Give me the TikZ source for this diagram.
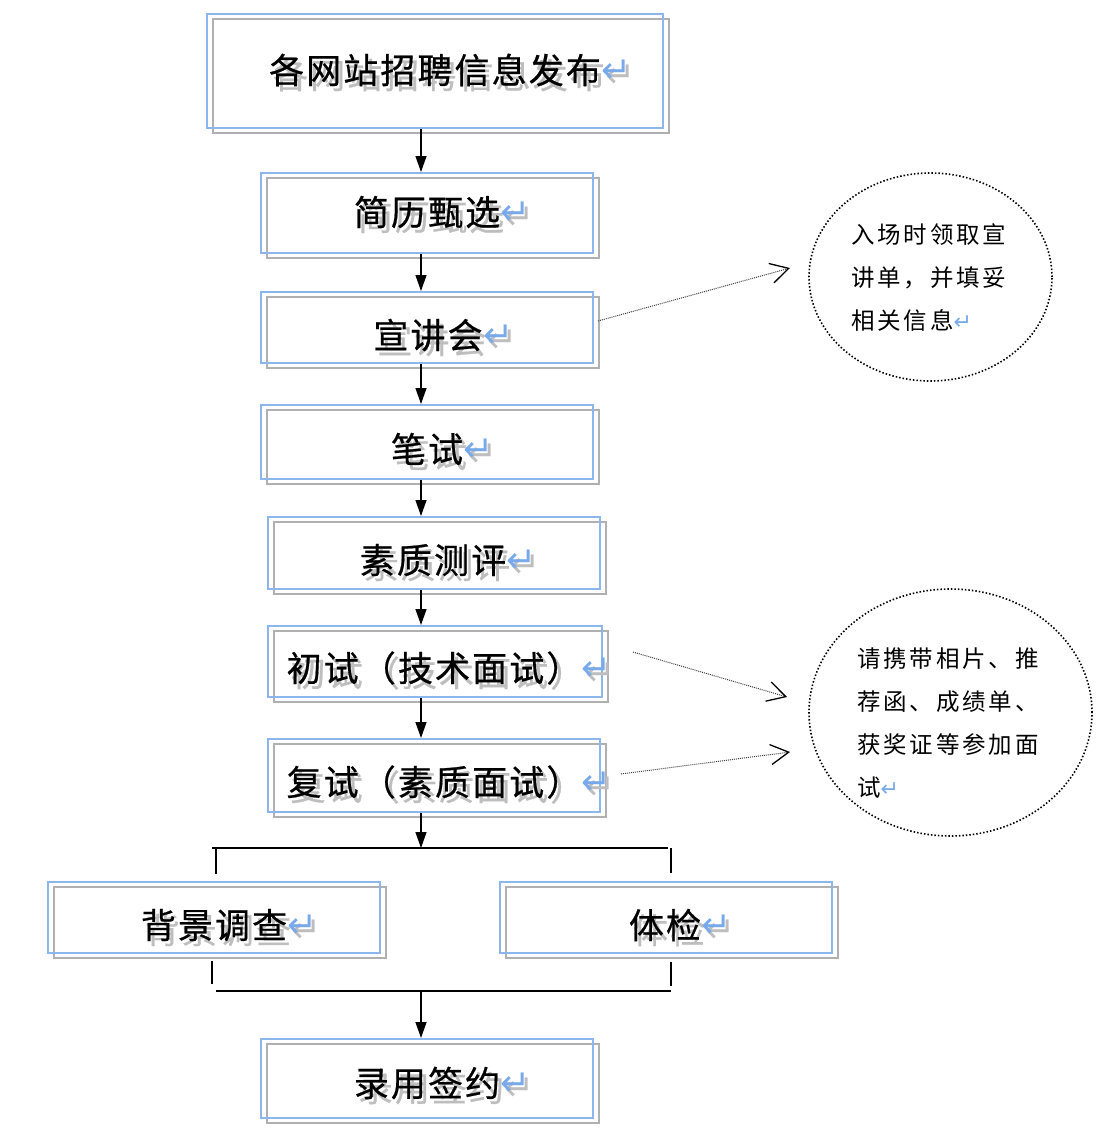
\documentclass[tikz,border=0pt]{standalone}
\usepackage{fontspec}
\setmainfont{Noto Sans CJK SC}
\newfontfamily\boxfont[LetterSpace=6,FakeBold=0.6]{Noto Sans CJK SC}
\newfontfamily\ellfont[LetterSpace=12]{Noto Sans CJK SC}
\newfontfamily\retfont{DejaVu Sans}
\usetikzlibrary{arrows.meta,shapes.geometric}
\definecolor{frameblue}{RGB}{141,182,236}
\definecolor{framegray}{RGB}{176,176,176}
\definecolor{shadowgray}{RGB}{190,190,190}
\definecolor{retblue}{RGB}{120,170,235}
\newcommand\flowbox[5]{%
  \node[graybox, minimum width=#4pt, minimum height=#5pt] (#1g) at (#2+6,#3+5) {};
  \node[bluebox, minimum width=#4pt, minimum height=#5pt] (#1) at (#2,#3) {};
}
\newcommand\flowlabel[4]{%
  \node[btext, text=shadowgray] (#1s) at (#2+4,#3+5) {#4};
  \node[ret, text=shadowgray, anchor=base west] (#1rs) at (#1s.base east) {↵};
  \node[btext] (#1) at (#2,#3) {#4};
  \node[ret, anchor=base west] (#1r) at (#1.base east) {↵};
}
\begin{document}
\begin{tikzpicture}[x=1pt,y=-1pt,
  bluebox/.style={draw=frameblue, line width=2pt, inner sep=0pt, rectangle},
  graybox/.style={draw=framegray, line width=2pt, inner sep=0pt, rectangle},
  btext/.style={inner sep=0pt, font=\boxfont\fontsize{35}{42}\selectfont},
  ret/.style={inner sep=0pt, font=\retfont\fontsize{36}{36}\selectfont, text=retblue, yshift=1pt},
  flow/.style={line width=1.3pt, -{Triangle[length=16pt,width=11pt]}},
  bar/.style={line width=2pt},
  note/.style={draw=black, ellipse, line width=1.6pt, dash pattern=on 1.5pt off 2pt, inner sep=0pt},
  etext/.style={inner sep=0pt, align=left, font=\ellfont\fontsize{23.5}{43}\selectfont},
  hint/.style={line width=1pt, dash pattern=on 1pt off 1pt, draw=black!75, -{Straight Barb[length=18pt,width=20pt,line width=1.3pt,color=black]}},
]
\fill[white] (0,0) rectangle (1108,1146);
\useasboundingbox (0,0) rectangle (1108,1146);

% boxes
\flowbox{b1}{435}{71}{456}{114}
\flowbox{b2}{427}{213}{332}{80}
\flowbox{b3}{427}{327.5}{332}{71}
\flowbox{b4}{427}{442}{332}{74}
\flowbox{b5}{434}{553}{332}{72}
\flowbox{b6}{435}{661.5}{334}{71}
\flowbox{b7}{434}{775.5}{332}{73}
\flowbox{b8}{214}{917.5}{332}{71}
\flowbox{b9}{666}{917.5}{332}{71}
\flowbox{b10}{427}{1078.5}{332}{79}

% labels
\flowlabel{l1}{435}{70}{各网站招聘信息发布}
\flowlabel{l2}{427}{212}{简历甄选}
\flowlabel{l3}{428}{335}{宣讲会}
\flowlabel{l4}{427}{449}{笔试}
\flowlabel{l5}{433}{560}{素质测评}
\flowlabel{l6}{434}{668}{初试（技术面试）}
\flowlabel{l7}{434}{782}{复试（素质面试）}
\flowlabel{l8}{214}{925}{背景调查}
\flowlabel{l9}{665}{925}{体检}
\flowlabel{l10}{427}{1083}{录用签约}

% main flow
\coordinate (ax) at (421,0);
\draw[flow] (b1.south -| ax) -- (b2.north -| ax);
\draw[flow] (b2.south -| ax) -- (b3.north -| ax);
\draw[flow] (b3.south -| ax) -- (b4.north -| ax);
\draw[flow] (b4.south -| ax) -- (b5.north -| ax);
\draw[flow] (b5.south -| ax) -- (b6.north -| ax);
\draw[flow] (b6.south -| ax) -- (b7.north -| ax);

% split
\coordinate (j1l) at (212,848);
\coordinate (j1r) at (668,848);
\draw[bar] (j1l) -- (j1r);
\draw[flow] (b7.south -| ax) -- (j1l -| ax);
\coordinate (k1a) at (216,848);
\coordinate (k1b) at (216,874);
\coordinate (k2a) at (671,848);
\coordinate (k2b) at (671,873);
\draw[bar] (k1a) -- (k1b);
\draw[bar] (k2a) -- (k2b);

% join
\coordinate (k3a) at (212,961);
\coordinate (k3b) at (212,984);
\coordinate (k4a) at (671,962);
\coordinate (k4b) at (671,986);
\draw[bar] (k3a) -- (k3b);
\draw[bar] (k4a) -- (k4b);
\coordinate (j2l) at (216,991);
\coordinate (j2r) at (671,991);
\draw[bar] (j2l) -- (j2r);
\draw[flow] (j2l -| ax) -- (b10.north -| ax);

% notes
\node[note, minimum width=243pt, minimum height=208pt] (e1) at (930.5,277) {};
\node[note, minimum width=283pt, minimum height=247pt] (e2) at (950.5,712.5) {};
\node[etext, anchor=west] (n1) at (851,278) {入场时领取宣\\讲单，并填妥\\相关信息{\retfont\fontsize{22}{22}\selectfont\color{retblue}↵}};
\node[etext, anchor=west] (n2) at (857,723) {请携带相片、推\\荐函、成绩单、\\获奖证等参加面\\试{\retfont\fontsize{22}{22}\selectfont\color{retblue}↵}};

% hints
\coordinate (h1e) at (790,268);
\coordinate (h2e) at (787,697);
\coordinate (h3e) at (790,752);
\draw[hint] ([shift={(4,-6.5)}]b3.east) -- (h1e);
\draw[hint] ([shift={(30,-9.5)}]b6.east) -- (h2e);
\draw[hint] ([shift={(20,-1.5)}]b7.east) -- (h3e);
\end{tikzpicture}
\end{document}
